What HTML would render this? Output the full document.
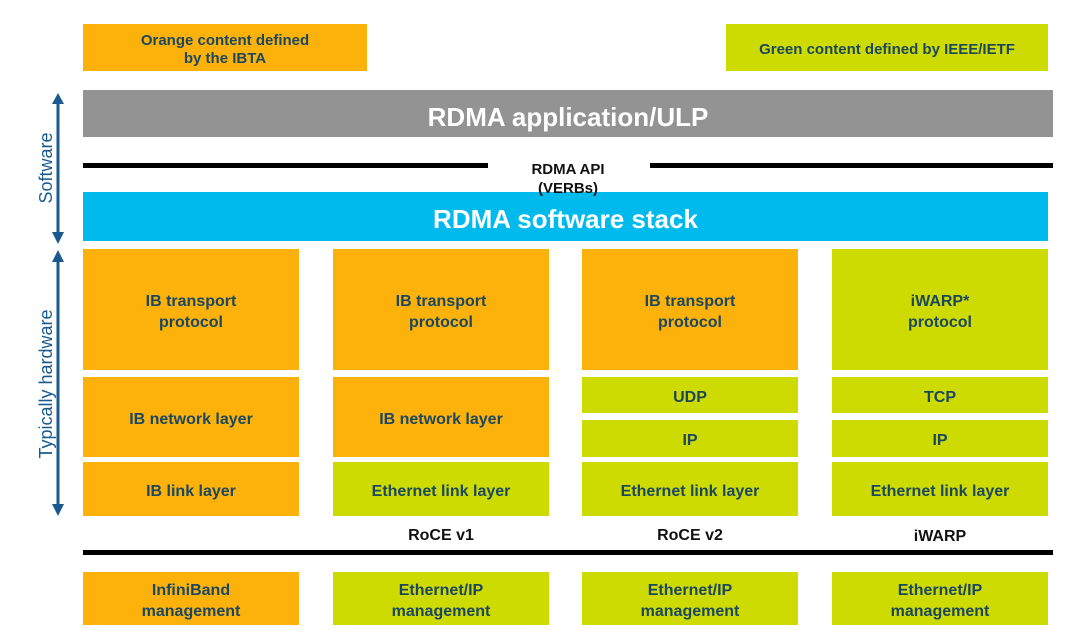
<!DOCTYPE html>
<html><head><meta charset="utf-8"><style>
body{margin:0;width:1080px;height:640px;background:#fff;position:relative;overflow:hidden;font-family:"Liberation Sans",Arial,sans-serif;font-weight:bold}
.b{position:absolute;display:flex;align-items:center;justify-content:center;text-align:center;color:#1b4760;font-size:16px;line-height:21px;box-sizing:border-box;padding-top:4px}
.o{background:#fcb20b}.g{background:#cedb00}
.t{position:absolute;color:#111;font-size:16px;text-align:center}
.line{position:absolute;background:#000;height:5px}
</style></head><body>
<div class="b o" style="left:83px;top:24px;width:284px;height:47px;font-size:15px;line-height:18px">Orange content defined<br>by the IBTA</div>
<div class="b g" style="left:726px;top:24px;width:322px;height:47px;font-size:15px">Green content defined by IEEE/IETF</div>
<div class="b" style="left:83px;top:90px;width:970px;height:47px;background:#939393;color:#fff;font-size:26px;padding-top:8px">RDMA application/ULP</div>
<div class="line" style="left:83px;top:163px;width:405px"></div>
<div class="line" style="left:650px;top:163px;width:403px"></div>
<div class="b" style="left:83px;top:192px;width:965px;height:49px;background:#00baee;color:#fff;font-size:26px;padding-top:6px">RDMA software stack</div>
<div class="t" style="left:500px;top:160px;width:136px;font-size:15px;line-height:19px;z-index:2">RDMA API<br>(VERBs)</div>

<div class="b o" style="left:83px;top:249px;width:216px;height:121px">IB transport<br>protocol</div>
<div class="b o" style="left:333px;top:249px;width:216px;height:121px">IB transport<br>protocol</div>
<div class="b o" style="left:582px;top:249px;width:216px;height:121px">IB transport<br>protocol</div>
<div class="b g" style="left:832px;top:249px;width:216px;height:121px">iWARP*<br>protocol</div>

<div class="b o" style="left:83px;top:377px;width:216px;height:80px">IB network layer</div>
<div class="b o" style="left:333px;top:377px;width:216px;height:80px">IB network layer</div>
<div class="b g" style="left:582px;top:377px;width:216px;height:36px">UDP</div>
<div class="b g" style="left:582px;top:420px;width:216px;height:37px">IP</div>
<div class="b g" style="left:832px;top:377px;width:216px;height:36px">TCP</div>
<div class="b g" style="left:832px;top:420px;width:216px;height:37px">IP</div>

<div class="b o" style="left:83px;top:462px;width:216px;height:54px">IB link layer</div>
<div class="b g" style="left:333px;top:462px;width:216px;height:54px">Ethernet link layer</div>
<div class="b g" style="left:582px;top:462px;width:216px;height:54px">Ethernet link layer</div>
<div class="b g" style="left:832px;top:462px;width:216px;height:54px">Ethernet link layer</div>

<div class="t" style="left:333px;top:527px;width:216px">RoCE v1</div>
<div class="t" style="left:582px;top:527px;width:216px">RoCE v2</div>
<div class="t" style="left:832px;top:528px;width:216px">iWARP</div>
<div class="line" style="left:83px;top:550px;width:970px"></div>

<div class="b o" style="left:83px;top:572px;width:216px;height:53px">InfiniBand<br>management</div>
<div class="b g" style="left:333px;top:572px;width:216px;height:53px">Ethernet/IP<br>management</div>
<div class="b g" style="left:582px;top:572px;width:216px;height:53px">Ethernet/IP<br>management</div>
<div class="b g" style="left:832px;top:572px;width:216px;height:53px">Ethernet/IP<br>management</div>

<svg style="position:absolute;left:0;top:0" width="80" height="640">
<g fill="#1a5a8e" stroke="#1a5a8e">
<line x1="58" y1="100" x2="58" y2="236" stroke-width="3"/>
<polygon points="52,104 64,104 58,93" stroke="none"/>
<polygon points="52,232 64,232 58,244" stroke="none"/>
<line x1="58" y1="258" x2="58" y2="508" stroke-width="3"/>
<polygon points="52,262 64,262 58,250" stroke="none"/>
<polygon points="52,504 64,504 58,516" stroke="none"/>
</g>
<text x="0" y="0" transform="translate(52,168) rotate(-90)" text-anchor="middle" fill="#1a5a8e" font-family="Liberation Sans,Arial,sans-serif" font-weight="normal" font-size="18">Software</text>
<text x="0" y="0" transform="translate(52,384) rotate(-90)" text-anchor="middle" fill="#1a5a8e" font-family="Liberation Sans,Arial,sans-serif" font-weight="normal" font-size="18">Typically hardware</text>
</svg>
</body></html>
